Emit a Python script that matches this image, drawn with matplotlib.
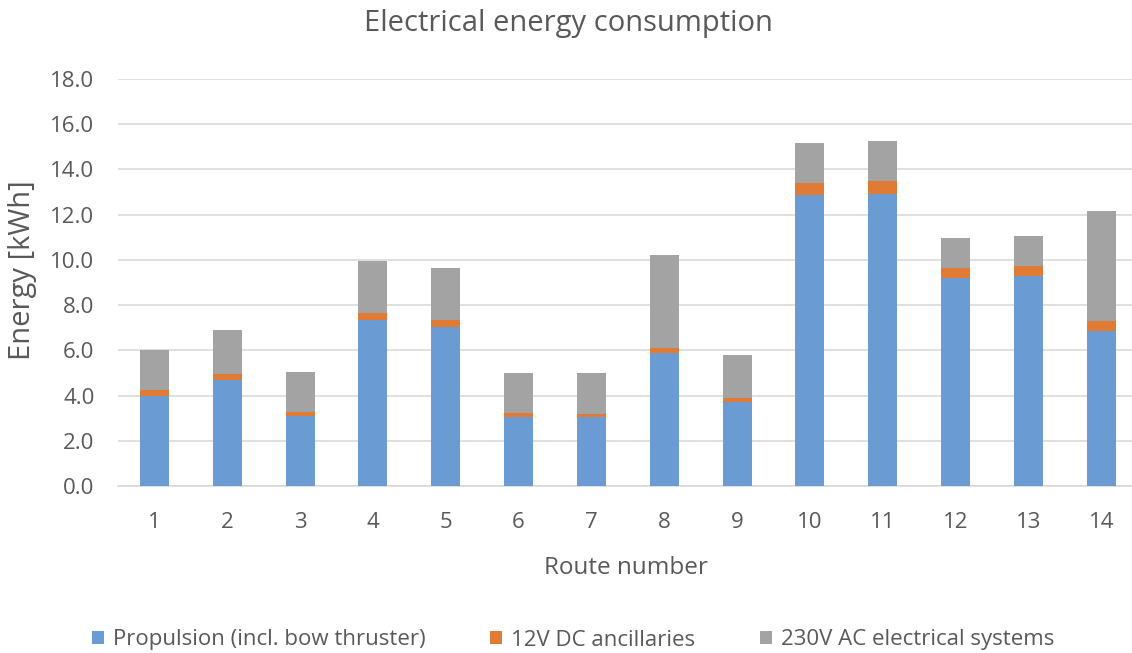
import numpy as np
import matplotlib.pyplot as plt

plt.rcParams['font.family'] = ['Open Sans', 'DejaVu Sans']

routes = [str(i) for i in range(1, 15)]
propulsion = [4.00, 4.70, 3.11, 7.36, 7.04, 3.04, 3.04, 5.88, 3.72, 12.86, 12.93, 9.22, 9.28, 6.87]
dc_12v = [0.25, 0.25, 0.18, 0.31, 0.31, 0.19, 0.13, 0.24, 0.19, 0.55, 0.54, 0.44, 0.44, 0.42]
ac_230v = [1.75, 1.97, 1.77, 2.29, 2.28, 1.77, 1.84, 4.09, 1.90, 1.78, 1.80, 1.33, 1.34, 4.89]

series = [
    ('Propulsion (incl. bow thruster)', propulsion, '#6A9BD3'),
    ('12V DC ancillaries', dc_12v, '#E07B35'),
    ('230V AC electrical systems', ac_230v, '#A3A3A3'),
]

W, H = 1132, 653
fig = plt.figure(figsize=(W / 100, H / 100), dpi=100)
ax = fig.add_axes([118 / W, (H - 486) / H, (1134 - 118) / W, (486 - 79) / H])

x = np.arange(1, len(routes) + 1)
bottom = np.zeros(len(routes))
for label, vals, color in series:
    ax.bar(x, vals, width=0.4, bottom=bottom, color=color, label=label, zorder=3)
    bottom += np.array(vals)

ax.set_xlim(0.5, 14.45)
ax.set_ylim(0, 18)
yt = np.arange(0, 18.1, 2)
ax.set_yticks(yt)
ax.set_yticklabels([f'{v:.1f}' for v in yt])
ax.set_xticks(x)
ax.set_xticklabels(routes)
ax.grid(axis='y', color='#D9D9D9', linewidth=1.2, zorder=0)
for s in ['top', 'right', 'left']:
    ax.spines[s].set_visible(False)
ax.spines['bottom'].set_color('#D9D9D9')
ax.spines['bottom'].set_linewidth(1.2)
ax.tick_params(length=0, labelsize=16, colors='#595959')
ax.tick_params(axis='y', pad=17)
ax.tick_params(axis='x', pad=19)

ax.set_xlabel('Route number', fontsize=17.5, color='#595959', labelpad=16)
ax.set_ylabel('Energy [kWh]', fontsize=21, color='#595959', va='center')
# label centre sits a little above the middle of the plot area
ax.yaxis.set_label_coords(-(118 - 23) / (1134 - 118), (486 - 270) / (486 - 79))
fig.suptitle('Electrical energy consumption', fontsize=21, color='#595959',
             x=568 / W, y=1 - 23 / H, va='center')

fig.legend(loc='center', bbox_to_anchor=(573 / W, 1 - 640 / H), ncol=3, frameon=False,
           fontsize=16, labelcolor='#595959', handlelength=0.55, handleheight=0.55,
           handletextpad=0.4, columnspacing=2.9)

fig.savefig('out.png', dpi=100)
